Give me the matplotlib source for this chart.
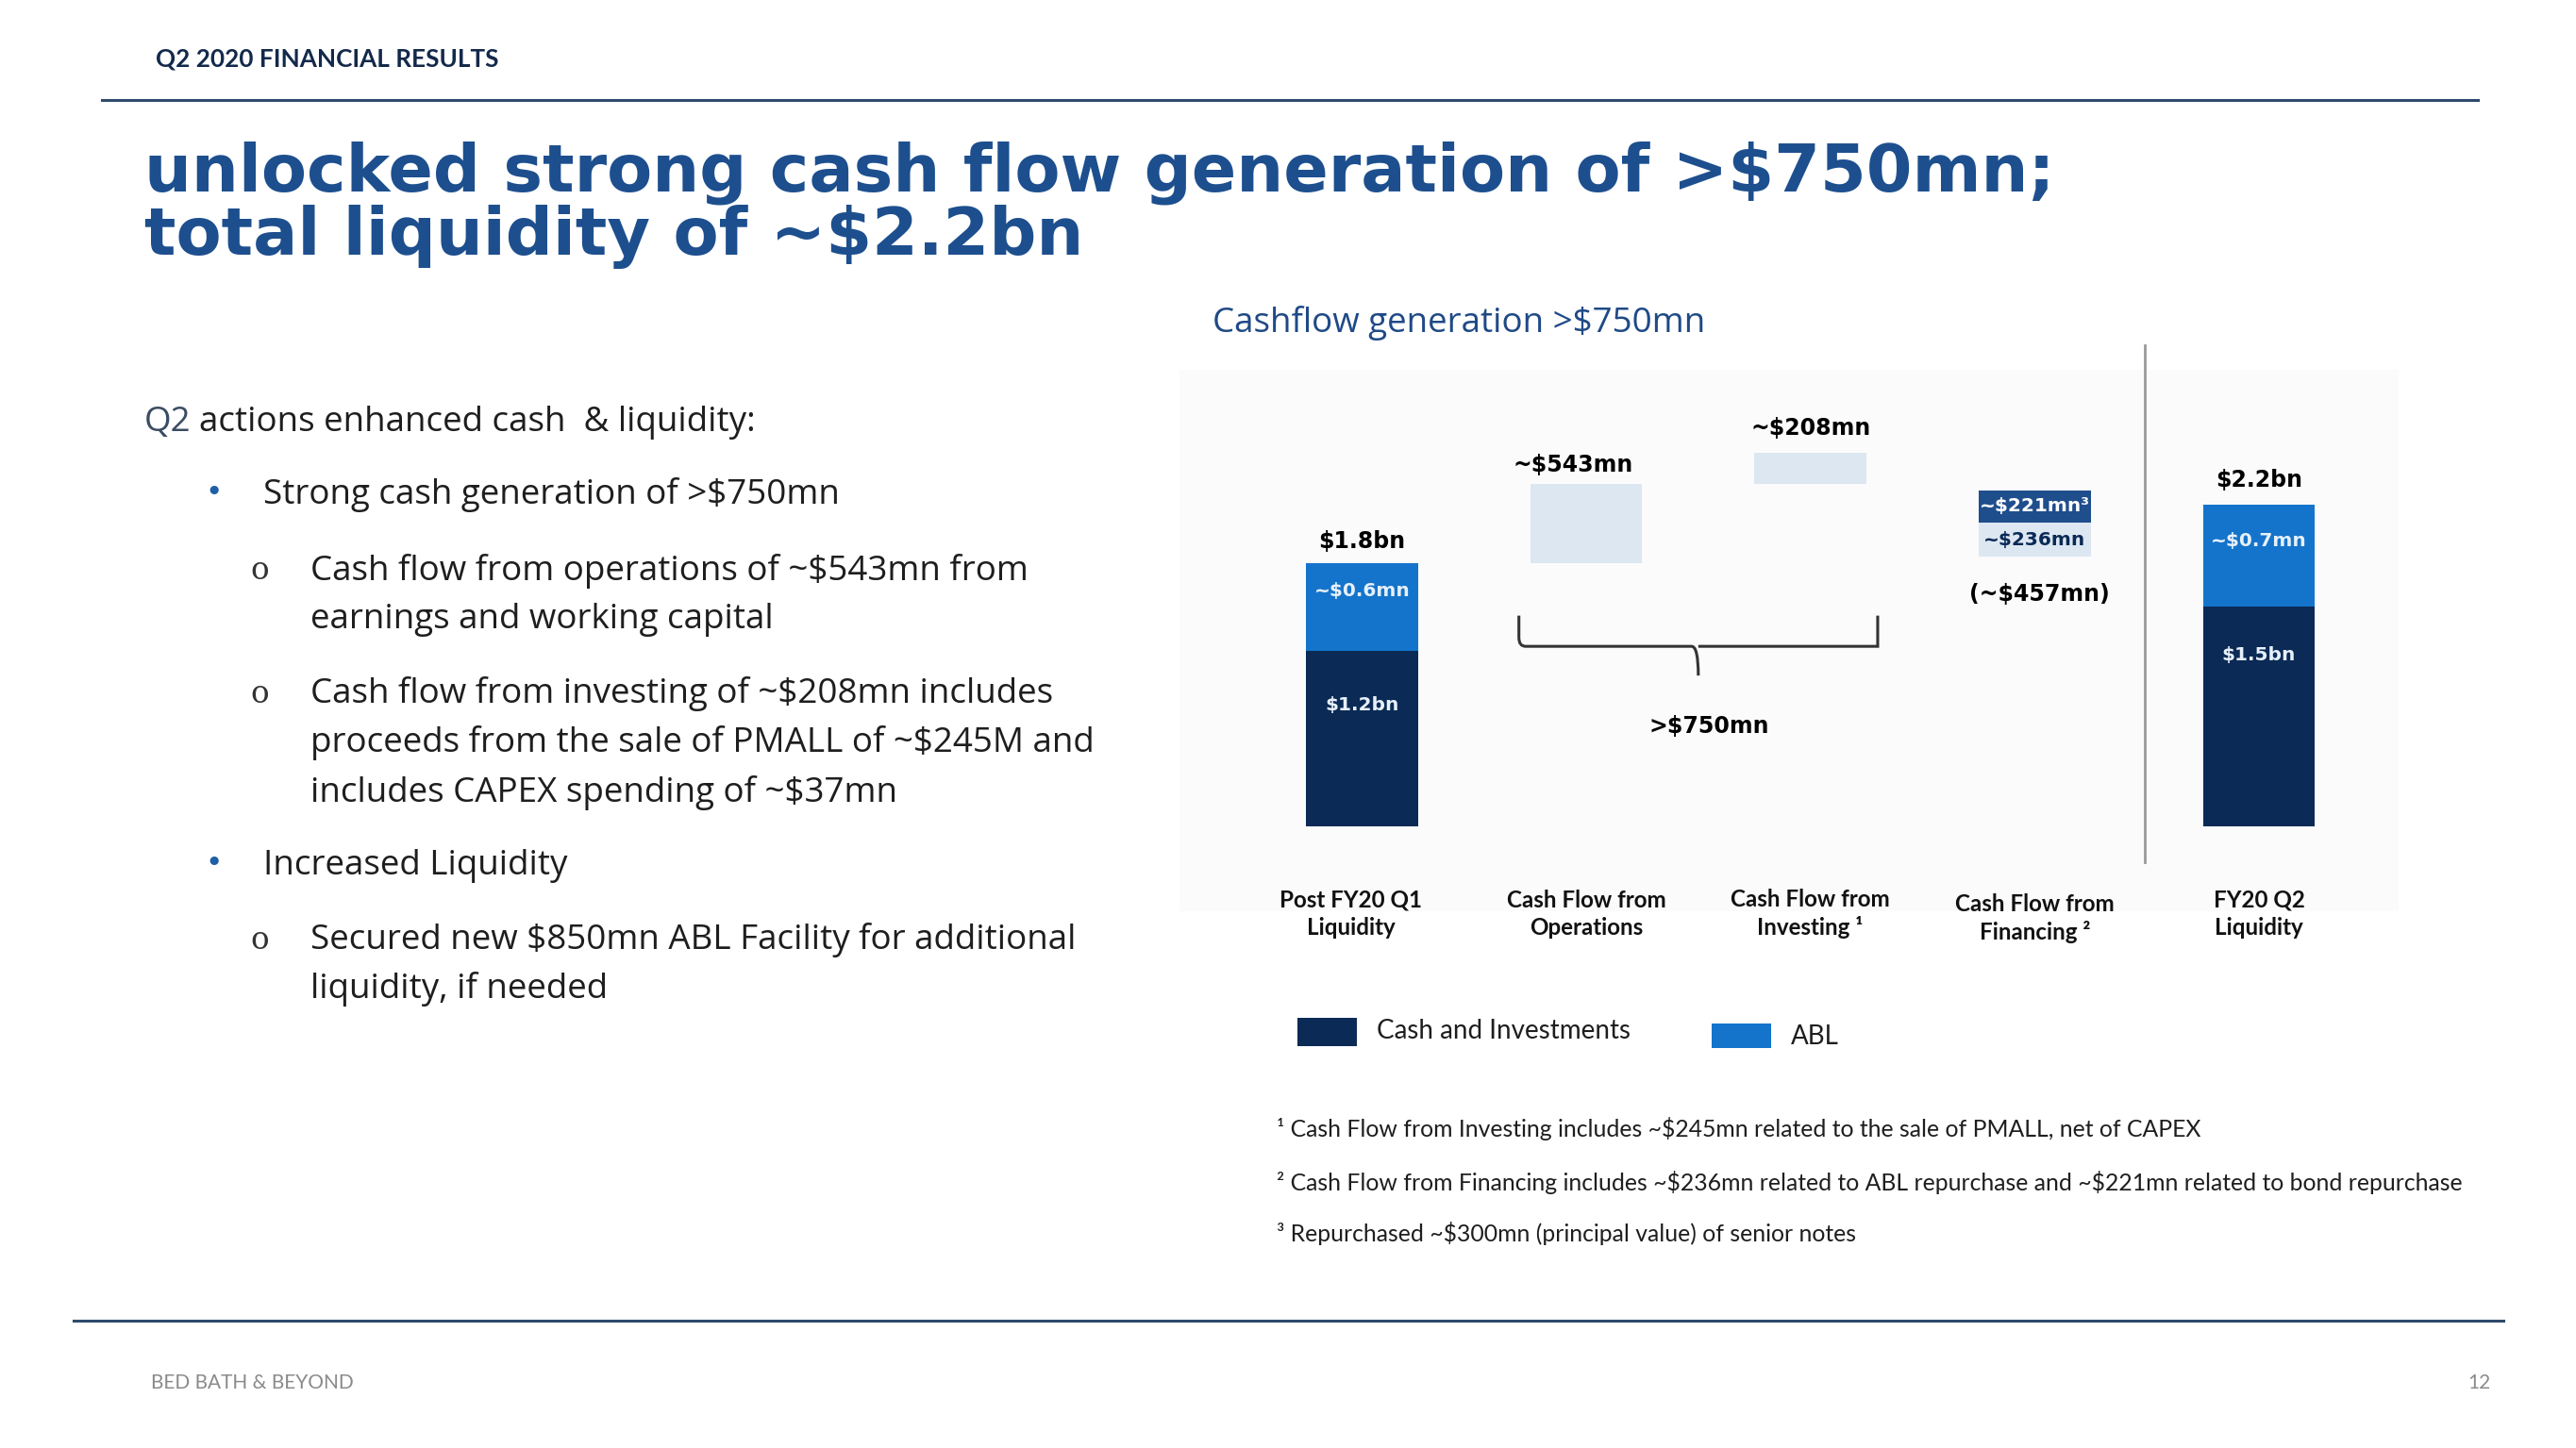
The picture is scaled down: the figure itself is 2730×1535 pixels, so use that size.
import matplotlib
matplotlib.use("Agg")
import matplotlib.pyplot as plt
from matplotlib.patches import Rectangle
from matplotlib.path import Path
from matplotlib.patches import PathPatch

plt.rcParams["text.parse_math"] = False

# ---------------- data ----------------
categories = ["Post FY20 Q1\nLiquidity", "Cash Flow from\nOperations",
              "Cash Flow from\nInvesting \u00b9", "Cash Flow from\nFinancing \u00b2",
              "FY20 Q2\nLiquidity"]
start_cash, start_abl = 1.2, 0.6          # $bn
end_cash, end_abl = 1.5, 0.7              # $bn
cf_operations = 0.543                     # $bn
cf_investing = 0.208                      # $bn
cf_fin_bond = 0.221                       # $bn (outflow)
cf_fin_abl = 0.236                        # $bn (outflow)
label_start_total = "$1.8bn"
label_start_abl = "~$0.6mn"
label_start_cash = "$1.2bn"
label_end_total = "$2.2bn"
label_end_abl = "~$0.7mn"
label_end_cash = "$1.5bn"
label_ops = "~$543mn"
label_inv = "~$208mn"
label_fin_bond = "~$221mn\u00b3"
label_fin_abl = "~$236mn"
label_fin_total = "(~$457mn)"
label_generation = ">$750mn"

# ---------------- styles ----------------
W, H = 2730, 1535
S = W / 1568.0
NAVY = "#0B2A55"
ABL = "#1474CB"
LIGHT = "#DCE7F2"
MID = "#1F4E8C"
TITLE = "#1D4F8E"
BODY = "#1E1E1E"

fig = plt.figure(figsize=(W / 100, H / 100), dpi=100)
fig.patch.set_facecolor("white")

def fx(x):  # shrunk-pixel x -> fig fraction
    return x * S / W

def fy(y):  # shrunk-pixel y (from top) -> fig fraction
    return 1 - y * S / H

# faint chart background
fig.add_artist(Rectangle((fx(718), fy(555)), fx(1460) - fx(718), fy(225) - fy(555),
                         transform=fig.transFigure, facecolor="#FBFBFB", edgecolor="none", zorder=0))

# ---------------- header / frame ----------------
fig.text(fx(95), fy(36), "Q2 2020 FINANCIAL RESULTS", fontsize=18.8, fontweight="bold",
         color="#13294B", family="Lato", va="center", ha="left")
fig.add_artist(plt.Line2D([fx(62), fx(1508)], [fy(61), fy(61)], transform=fig.transFigure,
                          color="#2F4B6C", lw=2.2))
fig.text(fx(88), fy(125), "unlocked strong cash flow generation of >$750mn;\ntotal liquidity of ~$2.2bn",
         fontsize=50.5, fontweight="bold", color=TITLE, family="DejaVu Sans", va="center", ha="left",
         linespacing=1.0)
fig.add_artist(plt.Line2D([fx(45), fx(1524)], [fy(804), fy(804)], transform=fig.transFigure,
                          color="#2F4B6C", lw=2.2))
fig.text(fx(92), fy(842), "BED BATH & BEYOND", fontsize=15, color="#8A8A8A", family="Lato",
         va="center", ha="left")
fig.text(fx(1516), fy(842), "12", fontsize=15, color="#8A8A8A", family="Lato",
         va="center", ha="right")

# ---------------- left text ----------------
BFS = 26.5
fig.text(fx(88), fy(257.5), "Q2", fontsize=BFS, color="#3A4C63", family="Open Sans", va="center")
fig.text(fx(121), fy(257.5), "actions enhanced cash  & liquidity:", fontsize=BFS, color=BODY,
         family="Open Sans", va="center")
bullets = [
    (130, 160, 300, ["Strong cash generation of >$750mn"], "\u2022"),
    (158, 189, 346, ["Cash flow from operations of ~$543mn from",
                     "earnings and working capital"], "o"),
    (158, 189, 421, ["Cash flow from investing of ~$208mn includes",
                     "proceeds from the sale of PMALL of ~$245M and",
                     "includes CAPEX spending of ~$37mn"], "o"),
    (130, 160, 526, ["Increased Liquidity"], "\u2022"),
    (158, 189, 571, ["Secured new $850mn ABL Facility for additional",
                     "liquidity, if needed"], "o"),
]
for bx, tx, y0, lines, sym in bullets:
    if sym == "\u2022":
        fig.text(fx(bx), fy(y0), sym, fontsize=BFS - 4, color="#1F5FA6", family="DejaVu Sans",
                 va="center", ha="center")
    else:
        fig.text(fx(bx), fy(y0 + 1.5), sym, fontsize=BFS - 3, color="#333333", family="DejaVu Serif",
                 va="center", ha="center")
    for i, ln in enumerate(lines):
        fig.text(fx(tx), fy(y0 + 1.5 + 30 * i), ln, fontsize=BFS, color=BODY, family="Open Sans",
                 va="center", ha="left")

# ---------------- chart ----------------
fig.text(fx(738), fy(197), "Cashflow generation >$750mn", fontsize=26.5, color="#1F4A86",
         family="Open Sans", va="center", ha="left")

# axes placement: x data unit = 136.5 shrunk px, y unit (1bn) = 89 shrunk px
ux, uy = 136.5, 89.0
x0_px, y0_px = 829.0, 503.0
xmin, xmax, ymin, ymax = -1.0, 5.0, -0.8, 3.0
ax = fig.add_axes([fx(x0_px + xmin * ux), fy(y0_px - ymin * uy),
                   fx((xmax - xmin) * ux), (ymax - ymin) * uy * S / H])
ax.set_xlim(xmin, xmax)
ax.set_ylim(ymin, ymax)
ax.set_axis_off()

pos = list(range(len(categories)))
bw = 0.5
start_total = start_cash + start_abl
ops_top = start_total + cf_operations
inv_top = ops_top + cf_investing

# start liquidity
ax.bar(pos[0], start_cash, bw, color=NAVY)
ax.bar(pos[0], start_abl, bw, bottom=start_cash, color=ABL)
# operations & investing floating boxes
ax.bar(pos[1], cf_operations, bw, bottom=start_total, color=LIGHT)
ax.bar(pos[2], cf_investing, bw, bottom=ops_top, color=LIGHT)
# financing outflows
fin_shift = -0.045
ax.bar(pos[3], cf_fin_bond, bw, bottom=ops_top - cf_fin_bond + fin_shift, color=MID)
ax.bar(pos[3], cf_fin_abl, bw, bottom=ops_top - cf_fin_bond - cf_fin_abl + fin_shift, color=LIGHT)
# end liquidity
ax.bar(pos[4], end_cash, bw, color=NAVY)
ax.bar(pos[4], end_abl, bw, bottom=end_cash, color=ABL)

LFS = 17
IFS = 14.5
kw = dict(family="DejaVu Sans", fontweight="bold", ha="center", va="center")
ax.text(pos[0], start_total + 0.15, label_start_total, fontsize=LFS, color="black", **kw)
ax.text(pos[0], start_total - 0.19, label_start_abl, fontsize=IFS, color="#E6F0FA", **kw)
ax.text(pos[0], start_cash - 0.37, label_start_cash, fontsize=IFS, color="#E6F0FA", **kw)
ax.text(pos[4], end_cash + end_abl + 0.17, label_end_total, fontsize=LFS, color="black", **kw)
ax.text(pos[4], end_cash + end_abl - 0.25, label_end_abl, fontsize=IFS, color="#E6F0FA", **kw)
ax.text(pos[4], end_cash - 0.33, label_end_cash, fontsize=IFS, color="#E6F0FA", **kw)
ax.text(pos[1] - 0.06, ops_top + 0.13, label_ops, fontsize=LFS, color="black", **kw)
ax.text(pos[2], inv_top + 0.17, label_inv, fontsize=LFS, color="black", **kw)
ax.text(pos[3], ops_top - cf_fin_bond / 2 + fin_shift, label_fin_bond, fontsize=IFS,
        color="white", **kw)
ax.text(pos[3], ops_top - cf_fin_bond - cf_fin_abl / 2 + fin_shift, label_fin_abl,
        fontsize=IFS, color="#0B2A55", **kw)
ax.text(pos[3] + 0.02, ops_top - cf_fin_bond - cf_fin_abl - 0.3, label_fin_total,
        fontsize=LFS, color="black", **kw)

# brace spanning operations + investing
bl = pos[1] - bw / 2 - 0.05
br = pos[2] + bw / 2 + 0.05
bm = (bl + br) / 2
ytop, yh, ytip, r = 1.44, 1.23, 1.03, 0.03
verts = [(bl, ytop), (bl, yh + 0.06), (bl, yh), (bl + r, yh), (bm - r, yh), (bm, yh), (bm, ytip),
         (bm, yh), (bm + r, yh), (br - r, yh), (br, yh), (br, yh + 0.06), (br, ytop)]
codes = [Path.MOVETO, Path.LINETO, Path.CURVE3, Path.CURVE3, Path.LINETO, Path.CURVE3, Path.CURVE3,
         Path.MOVETO, Path.CURVE3, Path.CURVE3, Path.LINETO, Path.CURVE3, Path.CURVE3]
ax.add_patch(PathPatch(Path(verts, codes), facecolor="none", edgecolor="#333333", lw=2.2,
                       clip_on=False))
ax.text(bm + 0.05, 0.68, label_generation, fontsize=LFS, color="black", **kw)

# separator
ax.plot([3.49, 3.49], [-0.245, 3.29], color="#9A9A9A", lw=2, clip_on=False)

# category labels
for i, c in enumerate(categories):
    dy = -0.6 if i != 3 else -0.63
    ax.text(pos[i] - (0.05 if i == 0 else 0), dy, c, fontsize=17.4, fontweight="bold",
            family="Lato", color="#111111", ha="center", va="center",
            linespacing=1.3, clip_on=False)

# legend
fig.add_artist(Rectangle((fx(790), fy(637)), fx(826) - fx(790), fy(620) - fy(637),
                         transform=fig.transFigure, facecolor=NAVY, edgecolor="none"))
fig.text(fx(838), fy(628), "Cash and Investments", fontsize=20, color=BODY, family="Lato",
         va="center", ha="left")
fig.add_artist(Rectangle((fx(1042), fy(638)), fx(1078) - fx(1042), fy(623) - fy(638),
                         transform=fig.transFigure, facecolor=ABL, edgecolor="none"))
fig.text(fx(1090), fy(631), "ABL", fontsize=20, color=BODY, family="Lato",
         va="center", ha="left")

# footnotes
notes = ["\u00b9 Cash Flow from Investing includes ~$245mn related to the sale of PMALL, net of CAPEX",
         "\u00b2 Cash Flow from Financing includes ~$236mn related to ABL repurchase and ~$221mn related to bond repurchase",
         "\u00b3 Repurchased ~$300mn (principal value) of senior notes"]
for y, n in zip([687, 720, 751], notes):
    fig.text(fx(777), fy(y), n, fontsize=17.8, color=BODY, family="Lato", va="center", ha="left")

fig.savefig("out.png", dpi=100, facecolor="white")
